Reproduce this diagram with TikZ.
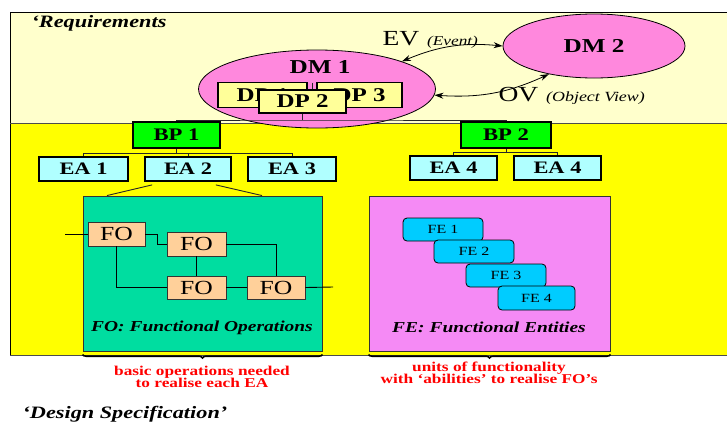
\documentclass[tikz,border=0pt]{standalone}
\usepackage{fontspec}
\setmainfont{Liberation Serif}[FakeStretch=1.28]
\usetikzlibrary{arrows.meta,decorations.pathreplacing,shapes.geometric}
\definecolor{paleY}{HTML}{FFFFCC}
\definecolor{bandY}{HTML}{FFFF00}
\definecolor{dmpink}{HTML}{FF88DD}
\definecolor{dpfill}{HTML}{FFFF99}
\definecolor{bpgreen}{HTML}{00FF00}
\definecolor{eacyan}{HTML}{B0FFFF}
\definecolor{fogreen}{HTML}{00DDA0}
\definecolor{fofill}{HTML}{FFD09A}
\definecolor{fepink}{HTML}{F58AF5}
\definecolor{fefill}{HTML}{00CCFF}
\newcommand\fsz[1]{\fontsize{#1}{#1}\selectfont}
\tikzset{
  dmnode/.style={ellipse, draw=black, line width=0.8pt, fill=dmpink, inner sep=0pt},
  thickbox/.style={draw=black, line width=1.8pt, inner sep=0pt, minimum height=25pt},
  dpbox/.style={thickbox, fill=dpfill, font=\bfseries\fsz{19.5}},
  bpbox/.style={thickbox, fill=bpgreen, font=\bfseries\fsz{17.7}},
  eabox/.style={thickbox, fill=eacyan, minimum height=24pt, font=\bfseries\fsz{17.5}},
  panel/.style={draw=black!80, line width=0.9pt, inner sep=0pt},
  fobox/.style={draw=black!80, line width=0.8pt, fill=fofill, inner sep=0pt, minimum height=24pt, minimum width=58pt, font=\fsz{20}},
  febox/.style={draw=black, line width=0.8pt, fill=fefill, rounded corners=4pt, inner sep=0pt, minimum height=23pt, minimum width=80pt, font=\fsz{12.5}},
  treeline/.style={draw=black!85, line width=0.9pt},
  foline/.style={draw=black, line width=0.9pt},
  duo/.style={{Stealth[length=9pt,width=6pt]}-{Stealth[length=9pt,width=6pt]}, line width=0.8pt},
  caption/.style={font=\bfseries\itshape\fsz{15.2}},
  redtext/.style={text=red, align=center, font=\bfseries\fsz{13.5}},
  bracestyle/.style={decorate, decoration={brace, mirror, amplitude=3.5pt}, line width=1.6pt},
}
\begin{document}
\begin{tikzpicture}[x=1pt,y=-1pt]
\useasboundingbox (0,0) rectangle (727,426);
% bands
\fill[paleY] (10,12) rectangle (727,123);
\fill[bandY] (10,123) rectangle (727,355);
\draw[black, line width=0.9pt] (727,12) -- (10,12) -- (10,355);
\draw[black!70, line width=0.8pt] (10,123) -- (727,123);
\draw[black!70, line width=0.8pt] (10,355) -- (727,355);

\node[anchor=west, font=\bfseries\itshape\fsz{17.4}] (req) at (28,23) {‘Requirements};
\node[anchor=west, font=\bfseries\itshape\fsz{17.4}] (des) at (19,414) {‘Design Specification’};

% domain models
\node[dmnode, minimum width=237pt, minimum height=78pt] (DM1) at (317,89) {};
\node[font=\bfseries\fsz{19.7}] (DM1t) at (320,67) {DM 1};
\node[dmnode, minimum width=182pt, minimum height=64pt, font=\bfseries\fsz{19.7}] (DM2) at (594,46) {DM 2};

\node[dpbox, minimum width=89pt] (DP1) at (262.5,95) {DP 1};
\node[dpbox, minimum width=85pt] (DP3) at (359.5,95) {DP 3};
\coordinate (dpj) at (312,82.5);
\draw[treeline] (dpj) -- (312,90);
\node[dpbox, minimum width=87pt, minimum height=23pt] (DP2) at (302.5,101.5) {DP 2};

% EV / OV arrows
\draw[duo] (DM2.west) to[bend right=14] (DM1.18);
\draw[duo] (DM1.-3) to[bend right=14] (DM2.212);
\node[anchor=west, font=\fsz{21.5}] (evl) at (379,40) {EV \hspace{1pt}{\itshape\fsz{13.5}(Event)}};
\node[anchor=west, font=\fsz{21.5}] (ovl) at (495,96) {OV \hspace{1pt}{\itshape\fsz{14}(Object View)}};

% business processes
\node[bpbox, minimum width=87pt, minimum height=26pt] (BP1) at (176.5,135) {BP 1};
\node[bpbox, minimum width=90pt, minimum height=26pt] (BP2) at (506,135) {BP 2};
\draw[treeline] (DP2.south) -- (DP2.south |- 0,120) coordinate (hub);
\draw[treeline] (BP1.north) |- (hub) -| (BP2.north);

% elementary activities
\node[eabox, minimum width=89pt] (EA1) at (83.5,169) {EA 1};
\node[eabox, minimum width=86pt] (EA2) at (188,169) {EA 2};
\node[eabox, minimum width=88pt] (EA3) at (292,169) {EA 3};
\node[eabox, minimum width=87pt] (EA4a) at (453.5,168) {EA 4};
\node[eabox, minimum width=87pt] (EA4b) at (557.5,168) {EA 4};
\draw[treeline] (BP1.south) -- ++(0,5) coordinate (j1);
\draw[treeline] (EA1.north) |- (j1) -| (EA3.north);
\draw[treeline] (EA2.north) -- (EA2.north |- j1);
\draw[treeline] (BP2.south) -- ++(0,4) coordinate (j2);
\draw[treeline] (EA4a.north) |- (j2) -| (EA4b.north);

% panels
\node[panel, fill=fogreen, minimum width=239pt, minimum height=155pt] (FOP) at (202.5,273.5) {};
\node[panel, fill=fepink, minimum width=241pt, minimum height=155pt] (FEP) at (489.5,273.5) {};
\draw[treeline] (EA2.south west) ++(8,3) coordinate (e2l) -- (FOP.north west -| 107,0);
\draw[treeline] (EA2.south east) ++(-16,3) coordinate (e2r) -- (FOP.north west -| 262,0);

% functional operations
\node[fobox, minimum width=57pt] (FOa) at (116.5,234) {FO};
\node[fobox, minimum width=59pt] (FOb) at (196.5,244) {FO};
\node[fobox, minimum width=59pt, minimum height=23pt] (FOc) at (196.5,287.5) {FO};
\node[fobox, minimum width=58pt, minimum height=23pt] (FOd) at (276,287.5) {FO};
\coordinate (fin) at (65,234);
\coordinate (fout) at (333,287);
\draw[foline] (fin) -- (FOa.west);
\draw[foline] (FOa.east) -- ++(12,0) |- (FOb.west);
\draw[foline] (FOb.east) -| (FOd.north);
\draw[foline] (FOb.south) -- (FOc.north);
\draw[foline] (FOa.south) |- (FOc.west);
\draw[foline] (FOc.east) -- (FOd.west);
\draw[foline] (FOd.east) -- (fout);
\node[caption] (FOcap) at (202,328) {FO: Functional Operations};

% functional entities
\node[febox] (FE1) at (443,229.5) {FE 1};
\node[febox] (FE2) at (474,251.5) {FE 2};
\node[febox] (FE3) at (506,275.5) {FE 3};
\node[febox, minimum width=77pt, minimum height=24pt] (FE4) at (536.5,298) {FE 4};
\node[caption] (FEcap) at (489,327) {FE: Functional Entities};

% braces and notes
\draw[bracestyle] ([yshift=-3pt]FOP.south west) -- ([yshift=-3pt]FOP.south east);
\draw[bracestyle] ([yshift=-3pt]FEP.south west) -- ([yshift=-3pt]FEP.south east);
\node[redtext] (note1) at (202,377) {basic operations needed\\[-1pt]to realise each EA};
\node[redtext] (note2) at (489,373) {units of functionality\\[-1pt]with ‘abilities’ to realise FO’s};
\end{tikzpicture}
\end{document}
